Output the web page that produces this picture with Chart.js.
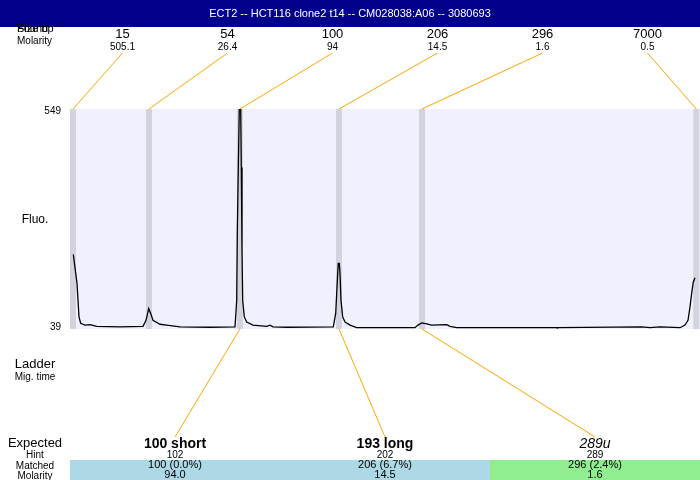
<!DOCTYPE html>
<html>
<head>
<meta charset="utf-8">
<script src="https://cdn.jsdelivr.net/npm/chart.js@4"></script>
<style>
  body{margin:0;background:#fff;}
  canvas{display:block;}
</style>
</head>
<body>
<canvas id="trace" width="700" height="480"></canvas>
<script>
// electropherogram trace (migration time units, fluorescence)
const migTime = [3.3,7,9,10.7,15,20,26.7,50,73,76,78.7,81,83,90,96.7,110,140,165,166.7,167.3,168.3,169.3,170.7,171.3,172,172.7,174.3,176.7,183,196.7,200,203,217,263.3,265.7,266.7,267.7,268.3,269.3,270,271,272.7,275,280,286.7,345,348,351.7,356.7,361.7,376.7,380,386.7,486.7,487.3,488,571.7,580,590,610,615,618,620,621.7,623.3,625];
const fluo    = [212,145,67,52,48,49,45,44,45,59,86,73,59,50,48,44,43,44,105,261,414,549,549,414,221,105,67,55,48,45,48,44,43,44,75,122,168,191,191,168,105,67,55,48,42,42,48,53,51,48,49,45,42,42,41,42,44,42,44,42,48,59,90,122,148,158];

const title = "ECT2 -- HCT116 clone2 t14 -- CM028038:A06 -- 3080693";
const yMin = 39, yMax = 549;

// ladder peaks
const ladderSize = ["15","54","100","206","296","7000"];
const ladderMol  = ["505.1","26.4","94","14.5","1.6","0.5"];
const ladderTime = [3, 79, 169.9, 269, 352, 626.3];

// expected fragments
const expName    = ["100 short","193 long","289u"];
const expHint    = ["102","202","289"];
const expMatched = ["100 (0.0%)","206 (6.7%)","296 (2.4%)"];
const expMol     = ["94.0","14.5","1.6"];
const expPeak    = [2, 3, 4];

const FONT = "'Liberation Sans', Arial, sans-serif";
const expFont  = ["bold 14px ","bold 14px ","italic 14px "];
const expColor = ["#add8e6","#add8e6","#90ee90"];

function txt(ctx, s, x, y, font, align, color){
  ctx.font = font + FONT;
  ctx.textAlign = align || "center";
  ctx.textBaseline = "middle";
  ctx.fillStyle = color || "#000";
  ctx.fillText(s, x, y);
}

const decor = {
  id: "decor",
  beforeDraw(chart){
    const ctx = chart.ctx, a = chart.chartArea, xs = chart.scales.x;
    ctx.save();
    ctx.fillStyle = "#fff";
    ctx.fillRect(0, 0, chart.width, chart.height);
    ctx.fillStyle = "#f0f0ff";
    ctx.fillRect(a.left, a.top, a.right - a.left, a.bottom - a.top);
    ctx.fillStyle = "#d3d3e0";
    ladderTime.forEach(t=>{
      const px = xs.getPixelForValue(t);
      ctx.fillRect(Math.max(a.left, px - 3), a.top, 6, a.bottom - a.top);
    });
    ctx.restore();
  },
  afterDraw(chart){
    const ctx = chart.ctx, a = chart.chartArea, xs = chart.scales.x;
    const W = chart.width;
    ctx.save();

    // title bar
    ctx.fillStyle = "#00008b";
    ctx.fillRect(0, 0, W, 27);
    txt(ctx, title, W/2, 14, "11px ", "center", "#fff");

    // top-left labels
    txt(ctx, "Found", 17, 29, "11px ", "left");
    txt(ctx, "Size bp", 17, 29, "11px ", "left");
    txt(ctx, "Molarity", 17, 41, "10px ", "left");

    // ladder labels + connectors
    const colW = (a.right - a.left) / ladderSize.length;
    ctx.strokeStyle = "#ffa500";
    ctx.lineWidth = 1;
    ladderSize.forEach((s,i)=>{
      const cx = a.left + colW*(i + 0.5);
      txt(ctx, s, cx, 34, "13px ");
      txt(ctx, ladderMol[i], cx, 47, "10px ");
      ctx.beginPath();
      ctx.moveTo(cx, 53);
      ctx.lineTo(xs.getPixelForValue(ladderTime[i]), a.top);
      ctx.stroke();
    });

    // y labels
    txt(ctx, String(yMax), 61, a.top + 2, "10px ", "right");
    txt(ctx, String(yMin), 61, a.bottom - 2, "10px ", "right");
    txt(ctx, "Fluo.", 35, 220, "12px ");
    txt(ctx, "Ladder", 35, 364, "13px ");
    txt(ctx, "Mig. time", 35, 377, "10px ");

    // expected rows
    txt(ctx, "Expected", 35, 443, "13px ");
    txt(ctx, "Hint", 35, 455, "10px ");
    txt(ctx, "Matched", 35, 466, "10px ");
    txt(ctx, "Molarity", 35, 476, "10px ");

    const eW = (a.right - a.left) / expName.length;
    expName.forEach((n,i)=>{
      const x0 = a.left + eW*i, cx = x0 + eW/2;
      ctx.fillStyle = expColor[i];
      ctx.fillRect(x0, 460, eW, 20);
      ctx.strokeStyle = "#ffa500";
      ctx.beginPath();
      ctx.moveTo(xs.getPixelForValue(ladderTime[expPeak[i]]), a.bottom);
      ctx.lineTo(cx, 437);
      ctx.stroke();
      txt(ctx, n, cx, 444, expFont[i]);
      txt(ctx, expHint[i], cx, 455, "10px ");
      txt(ctx, expMatched[i], cx, 465, "11px ");
      txt(ctx, expMol[i], cx, 475, "11px ");
    });
    ctx.restore();
  }
};

new Chart(document.getElementById("trace"), {
  type: "line",
  data: {
    datasets: [{
      data: migTime.map((t,i)=>({x:t, y:fluo[i]})),
      borderColor: "#000",
      borderWidth: 1.3,
      pointRadius: 0,
      tension: 0,
      fill: false
    }]
  },
  options: {
    responsive: false,
    animation: false,
    layout: { padding: { left: 70, right: 0, top: 109, bottom: 151 } },
    plugins: { legend: { display: false }, tooltip: { enabled: false } },
    scales: {
      x: { type: "linear", min: 0, max: 630, display: false },
      y: { min: yMin, max: yMax, display: false }
    }
  },
  plugins: [decor]
});
</script>
</body>
</html>
